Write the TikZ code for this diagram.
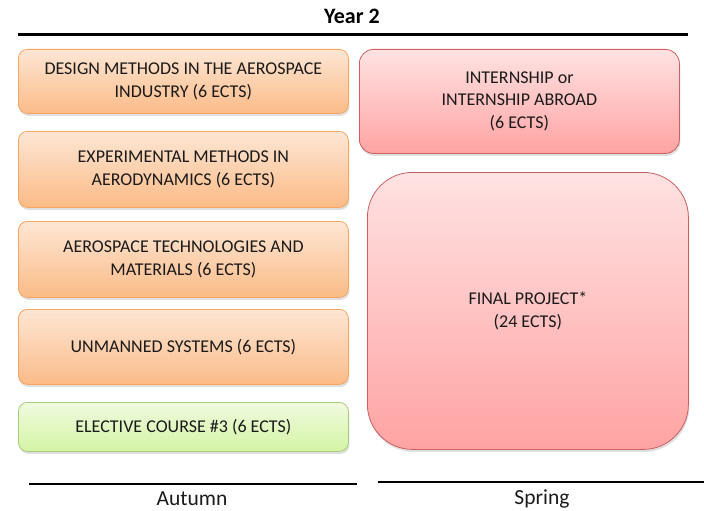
\documentclass[tikz,border=0pt]{standalone}
\usepackage{fontspec}
\setmainfont{Carlito}
\usetikzlibrary{shadows}
\definecolor{orTop}{HTML}{FDE6D4}
\definecolor{orBot}{HTML}{FBBB88}
\definecolor{orLine}{HTML}{F7A560}
\definecolor{rdTop}{HTML}{FFE2E2}
\definecolor{rdBot}{HTML}{FFA3A3}
\definecolor{rdLine}{HTML}{CC6060}
\definecolor{gnTop}{HTML}{F0FADF}
\definecolor{gnBot}{HTML}{D4F4A4}
\definecolor{gnLine}{HTML}{A6CC7C}
\definecolor{txt}{HTML}{1A1A1A}
\tikzset{
  box/.style={anchor=north west, rounded corners=9pt, line width=0.8pt, align=center,
    font=\fontsize{18}{22.5}\selectfont, text=txt, inner sep=0pt,
    drop shadow={opacity=0.25, shadow xshift=1pt, shadow yshift=-2.5pt}},
  orbox/.style={box, draw=orLine, top color=orTop, bottom color=orBot},
  rdbox/.style={box, draw=rdLine, top color=rdTop, bottom color=rdBot},
  gnbox/.style={box, draw=gnLine, top color=gnTop, bottom color=gnBot},
  lbl/.style={font=\fontsize{21.5}{25}\selectfont, text=txt}
}
\begin{document}
\begin{tikzpicture}[x=1pt,y=-1pt]
\useasboundingbox (0,0) rectangle (704,511);
\node[font=\fontsize{22}{26}\selectfont\bfseries, text=black] (year) at (352,16) {Year 2};
\coordinate (tl) at (18,35);
\coordinate (tr) at (688,35);
\draw[line width=3pt] (tl) -- (tr);

\node[orbox, minimum width=330pt, minimum height=64pt] (b1) at (18,49)
  {DESIGN METHODS IN THE AEROSPACE\\INDUSTRY (6 ECTS)};
\node[orbox, minimum width=330pt, minimum height=76pt] (b2) at (18,131)
  {EXPERIMENTAL METHODS IN\\AERODYNAMICS (6 ECTS)};
\node[orbox, minimum width=330pt, minimum height=76pt] (b3) at (18,221)
  {AEROSPACE TECHNOLOGIES AND\\MATERIALS (6 ECTS)};
\node[orbox, minimum width=330pt, minimum height=75pt] (b4) at (18,309)
  {UNMANNED SYSTEMS (6 ECTS)};
\node[gnbox, minimum width=330pt, minimum height=49pt] (b5) at (18,402)
  {ELECTIVE COURSE \#3 (6 ECTS)};

\node[rdbox, minimum width=320pt, minimum height=104pt, rounded corners=14pt] (r1) at (359,49)
  {INTERNSHIP or\\INTERNSHIP ABROAD\\(6 ECTS)};
\node[rdbox, minimum width=321pt, minimum height=277pt, rounded corners=45pt] (r2) at (367,172)
  {FINAL PROJECT*\\(24 ECTS)};

\coordinate (al) at (29,484);
\coordinate (ar) at (357,484);
\coordinate (sl) at (378,482);
\coordinate (sr) at (704,482);
\draw[line width=1.2pt] (al) -- (ar);
\draw[line width=1.2pt] (sl) -- (sr);
\node[lbl] (aut) at (192,499) {Autumn};
\node[lbl] (spr) at (542,499) {Spring};
\end{tikzpicture}
\end{document}
